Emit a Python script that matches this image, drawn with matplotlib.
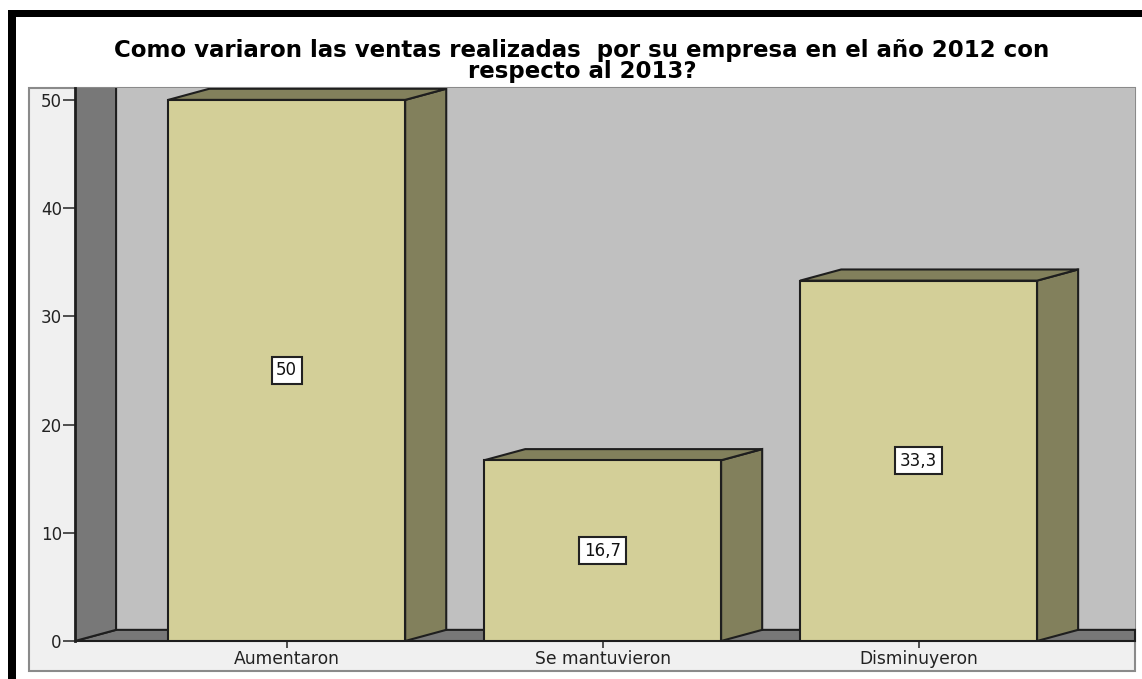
import matplotlib
matplotlib.use("Agg")
import matplotlib.pyplot as plt
from matplotlib.patches import Rectangle, Polygon

categories = ["Aumentaron", "Se mantuvieron", "Disminuyeron"]
values = [50, 16.7, 33.3]
yticks = [0, 10, 20, 30, 40, 50]
title = "Como variaron las ventas realizadas  por su empresa en el año 2012 con\nrespecto al 2013?"

W, H = 1142, 679
DPI = 100

front_color = "#d3cf98"
side_color = "#82805c"
wall_color = "#787878"
back_color = "#c0c0c0"
frame_color = "#f0f0f0"
edge = "#1e1e1e"

bar_w = 0.75
DX, DY = 0.13, 1.03   # oblique depth offset (x in category units, y in value units)

plt.rcParams['font.family'] = ['DejaVu Sans']

fig = plt.figure(figsize=(W / DPI, H / DPI), dpi=DPI)
fig.patch.set_facecolor("white")


def px_box(x0, y0, x1, y1):
    # pixel box (top-left origin) -> figure fraction [l, b, w, h]
    return [x0 / W, 1 - y1 / H, (x1 - x0) / W, (y1 - y0) / H]


# outer black border (top and left only, rest cropped)
fig.patches.append(Rectangle((8 / W, 1 - 17 / H), 1 - 8 / W, 7 / H, transform=fig.transFigure,
                             facecolor="black", edgecolor="none", zorder=0))
fig.patches.append(Rectangle((8 / W, 0), 8 / W, 1 - 10 / H, transform=fig.transFigure,
                             facecolor="black", edgecolor="none", zorder=0))

# light grey chart frame
l, b, w, h = px_box(29, 88, 1135, 671)
fig.patches.append(Rectangle((l, b), w, h, transform=fig.transFigure,
                             facecolor=frame_color, edgecolor="#8a8a8a", linewidth=1.5, zorder=0))

ax = fig.add_axes(px_box(75, 88, 1135, 641))
ax.set_zorder(2)
ax.set_facecolor(back_color)
x0, x1 = -0.67, 2.685
y0, y1 = 0, 51.1
ax.set_xlim(x0, x1)
ax.set_ylim(y0, y1)
for s in ax.spines.values():
    s.set_visible(False)

# floor
ax.add_patch(Polygon([(x0, 0), (x0 + DX, DY), (x1, DY), (x1, 0)], closed=True,
                     facecolor=wall_color, edgecolor=edge, linewidth=1.5, zorder=2, clip_on=False))
# left wall (runs past the top, clipped by the axes)
ax.add_patch(Polygon([(x0, 0), (x0 + DX, DY), (x0 + DX, y1 + 5), (x0, y1 + 5)], closed=True,
                     facecolor=wall_color, edgecolor=edge, linewidth=1.5, zorder=2, clip_on=True))
ax.plot([x0, x0], [0, y1], color=edge, linewidth=2, zorder=3, clip_on=False)

for i, v in enumerate(values):
    left, right = i - bar_w / 2, i + bar_w / 2
    ax.add_patch(Polygon([(right, 0), (right + DX, DY), (right + DX, v + DY), (right, v)], closed=True,
                         facecolor=side_color, edgecolor=edge, linewidth=1.5, zorder=4))
    ax.add_patch(Polygon([(left, v), (right, v), (right + DX, v + DY), (left + DX, v + DY)], closed=True,
                         facecolor=side_color, edgecolor=edge, linewidth=1.5, zorder=4))
    ax.add_patch(Rectangle((left, 0), bar_w, v, facecolor=front_color, edgecolor=edge,
                           linewidth=1.5, zorder=5))
    ax.text(i, v / 2, f"{v:g}".replace(".", ","), ha="center", va="center", fontsize=12,
            color="#111111", zorder=6,
            bbox=dict(boxstyle="square,pad=0.28", facecolor="white", edgecolor="#222222", linewidth=1.5))

ax.set_yticks(yticks)
ax.set_yticklabels([str(t) for t in yticks])
ax.set_xticks(range(len(categories)))
ax.set_xticklabels(categories)
ax.tick_params(axis="y", direction="out", length=8.5, width=1.2, color="#333333", pad=1,
               labelsize=12, labelcolor="#222222")
ax.tick_params(axis="x", direction="out", length=5, width=1.2, color="#333333", pad=1.5,
               labelsize=12.3, labelcolor="#222222")

fig.text(582 / W, 1 - 61 / H, title, ha="center", va="center", fontsize=16.5, fontweight="bold",
         linespacing=0.9, color="black")

fig.savefig("out.png", dpi=DPI)
